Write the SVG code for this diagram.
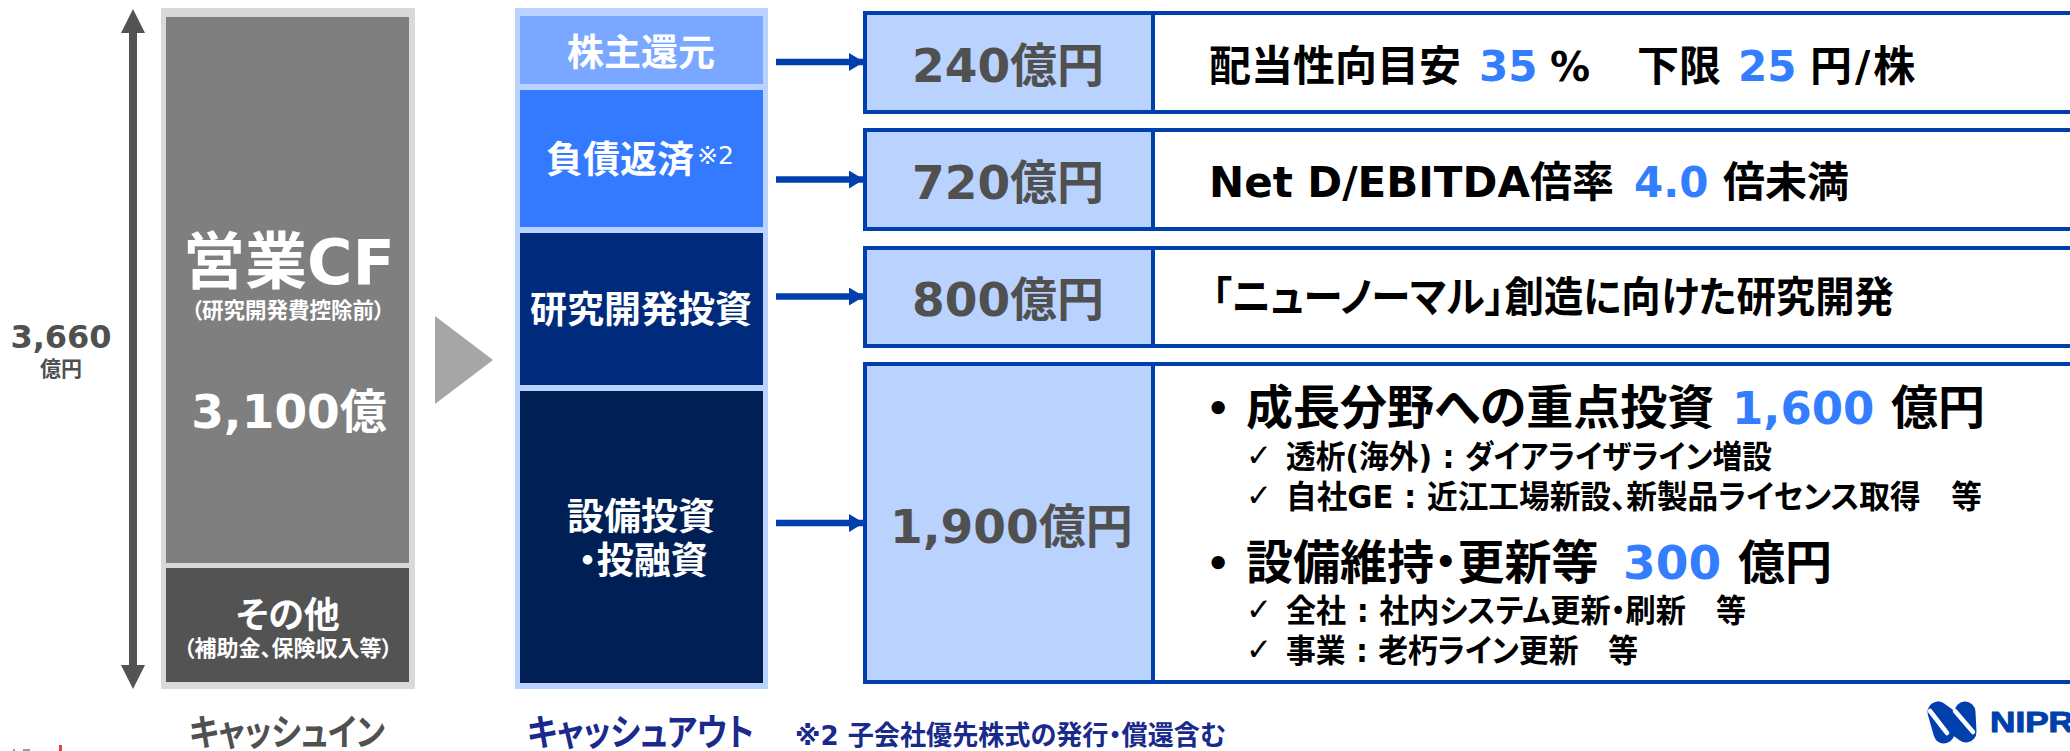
<svg xmlns="http://www.w3.org/2000/svg" width="2070" height="751" viewBox="0 0 2070 751">
<style>
text{font-family:"DejaVu Sans","Noto Sans CJK JP",sans-serif;font-weight:700;font-feature-settings:"palt"}
.c{text-anchor:middle}
.w{fill:#fff}.g{fill:#505050}.k{fill:#000}.n{fill:#1a2a8c}
.b{fill:#337dff}
.box{fill:#b9d2fe;stroke:#0040ac;stroke-width:4}
.box2{fill:#fff;stroke:#0040ac;stroke-width:4}
.amt{font-size:47px}
.r{font-size:42px}
.h{font-size:47px}
.s{font-size:32px}
.t{font-size:31px;font-weight:400}
.u{font-size:38px}
</style>
<defs><marker id="ah" markerUnits="userSpaceOnUse" markerWidth="16" markerHeight="18" refX="15" refY="9" orient="auto"><path d="M0 0L15 9L0 18Z" fill="#0040ac"/></marker></defs>
<rect width="2070" height="751" fill="#fff"/>
<g id="total">
<rect x="129" y="32" width="8" height="634" fill="#535353"/>
<path d="M121 33L133 9L145 33ZM121 665L133 689L145 665Z" fill="#535353"/>
<text class="c g" x="61" y="348" font-size="32">3,660</text>
<text class="c g" x="61" y="376" font-size="21">億円</text>
</g>
<g id="cash-in">
<rect x="161" y="8" width="254" height="681" fill="#d9d9d9"/>
<rect x="166" y="17" width="243" height="546" fill="#7f7f7f"/>
<rect x="166" y="568" width="243" height="114" fill="#535353"/>
<text class="c w" x="289" y="284" font-size="62">営業CF</text>
<text class="c w" x="288" y="318" font-size="21.5">（研究開発費控除前）</text>
<text class="c w" x="289" y="428" font-size="47">3,100億</text>
<text class="c w" x="288" y="628" font-size="36">その他</text>
<text class="c w" x="288" y="656" font-size="22">（補助金、保険収入等）</text>
<text class="g" x="189" y="746" font-size="37" textLength="196" lengthAdjust="spacingAndGlyphs">キャッシュイン</text>
</g>
<g id="flow-arrow"><path d="M435 316L493 360L435 404Z" fill="#a6a6a6"/></g>
<g id="cash-out">
<rect x="515" y="8" width="253" height="681" fill="#b9d2fe"/>
<rect x="520" y="16" width="243" height="68" fill="#7aa7ff"/>
<rect x="520" y="90" width="243" height="137" fill="#337aff"/>
<rect x="520" y="233" width="243" height="152" fill="#002b7c"/>
<rect x="520" y="391" width="243" height="292" fill="#001f54"/>
<text class="c w" x="641" y="66" font-size="37">株主還元</text>
<text class="w" x="546" y="173" font-size="37">負債返済<tspan x="697" y="164" font-size="25" font-weight="400">※2</tspan></text>
<text class="c w" x="641" y="323" font-size="37">研究開発投資</text>
<text class="c w" x="641" y="530" font-size="37">設備投資</text>
<text class="c w" x="643" y="574" font-size="37">・投融資</text>
<text class="n" x="527" y="746" font-size="37" textLength="227" lengthAdjust="spacingAndGlyphs">キャッシュアウト</text>
<text class="n" x="795" y="745" font-size="27" textLength="431" lengthAdjust="spacingAndGlyphs">※2 子会社優先株式の発行・償還含む</text>
</g>
<g id="connectors" stroke="#0040ac" stroke-width="6.5" marker-end="url(#ah)">
<line x1="776" y1="62" x2="864" y2="62"/>
<line x1="776" y1="179.5" x2="864" y2="179.5"/>
<line x1="776" y1="296.5" x2="864" y2="296.5"/>
<line x1="776" y1="523" x2="864" y2="523"/>
</g>
<g id="row-1">
<rect class="box2" x="865" y="13" width="1207" height="99"/>
<rect class="box" x="865" y="13" width="288" height="99"/>
<text class="g amt" x="912" y="82">240億円</text>
<text class="k r" x="1209" y="81">配当性向目安<tspan class="b" x="1479">35</tspan><tspan x="1550" font-size="40">%</tspan><tspan x="1637">下限</tspan><tspan class="b" x="1738">25</tspan><tspan x="1810" letter-spacing="3">円/株</tspan></text>
</g>
<g id="row-2">
<rect class="box2" x="865" y="130" width="1207" height="99"/>
<rect class="box" x="865" y="130" width="288" height="99"/>
<text class="g amt" x="912" y="199">720億円</text>
<text class="k r" x="1209" y="197">Net D/EBITDA倍率<tspan class="b" x="1634">4.0</tspan><tspan x="1723">倍未満</tspan></text>
</g>
<g id="row-3">
<rect class="box2" x="865" y="248" width="1207" height="98"/>
<rect class="box" x="865" y="248" width="288" height="98"/>
<text class="g amt" x="912" y="316">800億円</text>
<text class="k r" x="1212" y="312" textLength="682" lengthAdjust="spacingAndGlyphs">「ニューノーマル」創造に向けた研究開発</text>
</g>
<g id="row-4">
<rect class="box2" x="865" y="364" width="1207" height="318"/>
<rect class="box" x="865" y="364" width="288" height="318"/>
<text class="g amt" x="890" y="543">1,900億円</text>
<text class="k u" x="1206" y="422">•</text>
<text class="k h" x="1246" y="424">成長分野への重点投資<tspan class="b" x="1732" font-size="45">1,600</tspan><tspan x="1891">億円</tspan></text>
<text class="k t" x="1246" y="466">✓</text>
<text class="k s" x="1286" y="468" textLength="486" lengthAdjust="spacingAndGlyphs">透析(海外) : ダイアライザライン増設</text>
<text class="k t" x="1246" y="506">✓</text>
<text class="k s" x="1286" y="508" textLength="696" lengthAdjust="spacingAndGlyphs">自社GE : 近江工場新設、新製品ライセンス取得　等</text>
<text class="k u" x="1206" y="577">•</text>
<text class="k h" x="1246" y="579">設備維持・更新等<tspan class="b" x="1623">300</tspan><tspan x="1738">億円</tspan></text>
<text class="k t" x="1246" y="620">✓</text>
<text class="k s" x="1286" y="622" textLength="460" lengthAdjust="spacingAndGlyphs">全社 : 社内システム更新・刷新　等</text>
<text class="k t" x="1246" y="660">✓</text>
<text class="k s" x="1286" y="662" textLength="352" lengthAdjust="spacingAndGlyphs">事業 : 老朽ライン更新　等</text>
</g>
<g id="logo">
<path d="M1938 712L1944 733M1965 712L1966 732M1938 712L1966 732" fill="none" stroke="#0040ac" stroke-width="21" stroke-linecap="round"/>
<path d="M1930 711L1947 733M1955 711L1973 732" fill="none" stroke="#fff" stroke-width="4.5" stroke-linecap="round"/>
<text x="1990" y="732" font-size="29" fill="#0040ac" stroke="#0040ac" stroke-width="1" style="font-family:'Liberation Sans',sans-serif" textLength="84" lengthAdjust="spacingAndGlyphs">NIPR</text>
</g>
<g id="page-edge">
<rect x="59" y="745" width="3" height="6" fill="#f04040"/>
<rect x="13" y="749" width="2" height="2" fill="#999"/>
<rect x="23" y="749" width="7" height="2" fill="#999"/>
</g>
</svg>
